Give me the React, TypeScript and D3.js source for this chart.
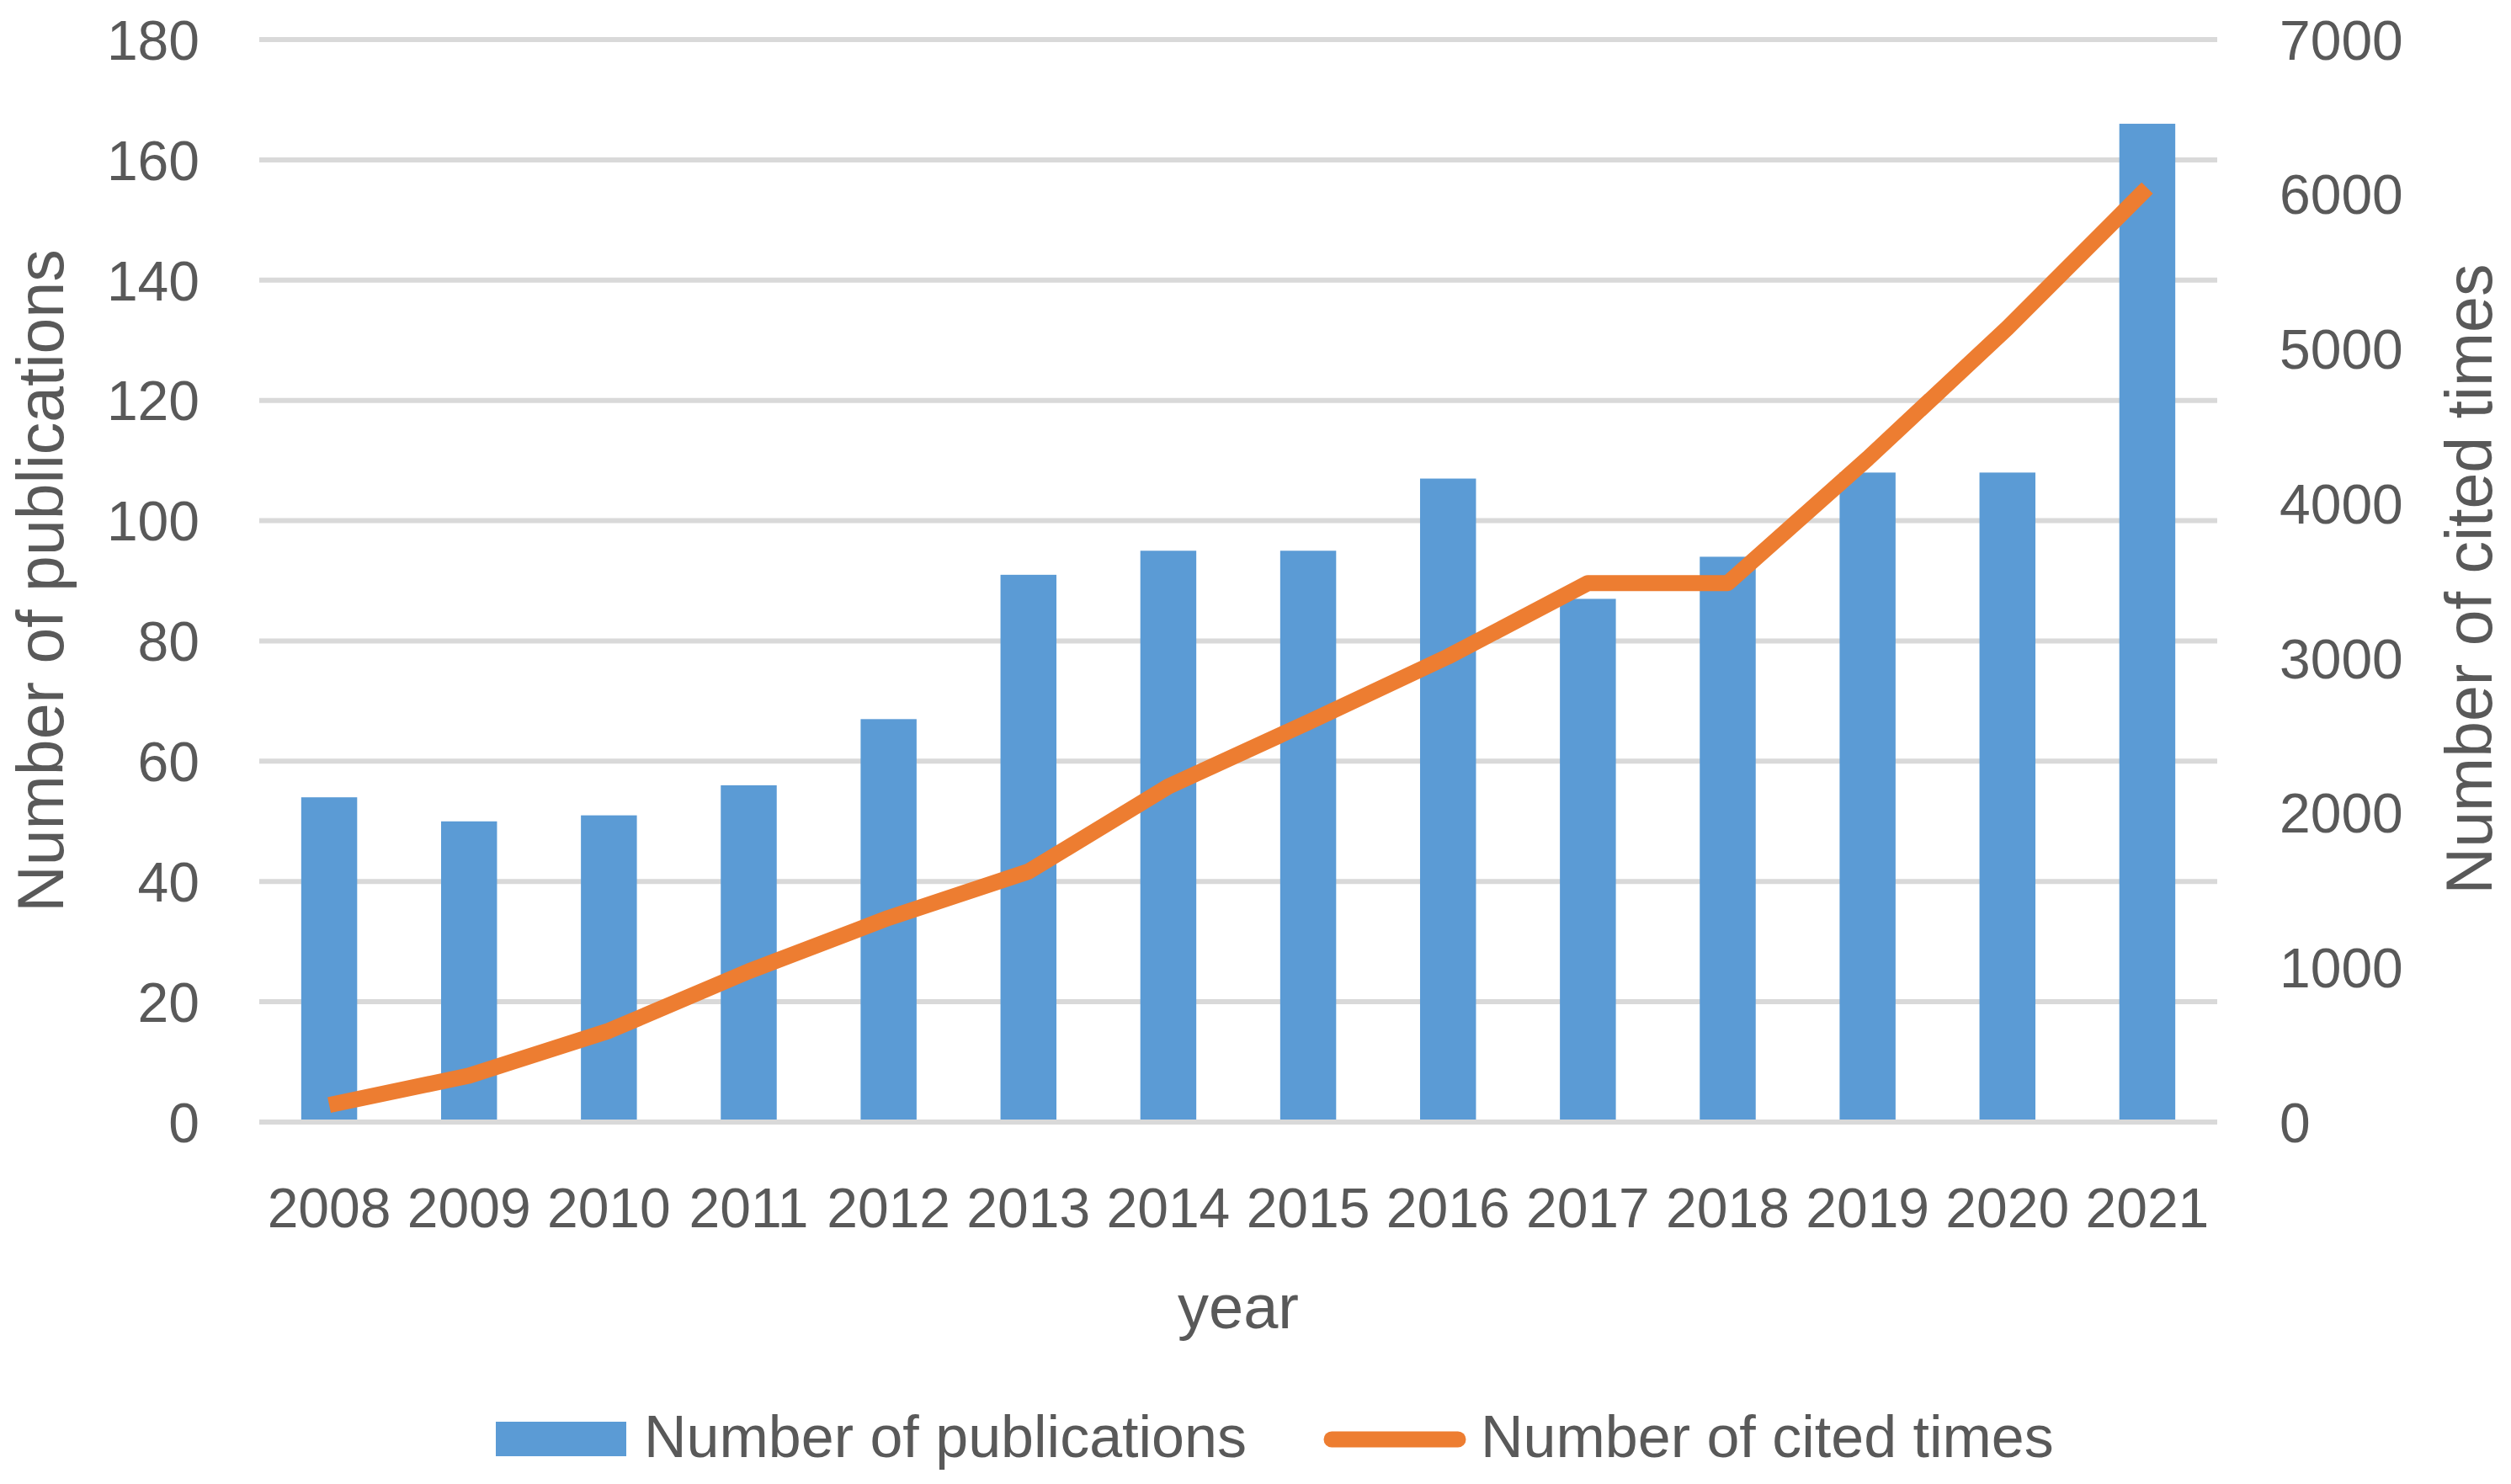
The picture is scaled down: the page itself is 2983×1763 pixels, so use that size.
import React from "react";
import * as d3 from "d3";

const years = ["2008","2009","2010","2011","2012","2013","2014","2015","2016","2017","2018","2019","2020","2021"];
const publications = [54, 50, 51, 56, 67, 91, 95, 95, 107, 87, 94, 108, 108, 166];
const citedTimes = [110, 300, 590, 975, 1320, 1620, 2170, 2585, 3010, 3485, 3485, 4290, 5135, 6040];
const leftTicks = [0, 20, 40, 60, 80, 100, 120, 140, 160, 180];
const rightTicks = [0, 1000, 2000, 3000, 4000, 5000, 6000, 7000];

const W = 2983;
const H = 1763;
const FONT = "'Liberation Sans', Arial, sans-serif";
const TEXT = "#595959";
const BLUE = "#5B9BD5";
const ORANGE = "#ED7D31";
const GRID = "#D9D9D9";

export default function App() {
  const x = d3.scaleBand<string>().domain(years).range([308, 2634]).paddingInner(0.6).paddingOuter(0.3);
  const yL = d3.scaleLinear().domain([0, 180]).range([1333, 47]);
  const yR = d3.scaleLinear().domain([0, 7000]).range([1333, 47]);
  const bw = x.bandwidth();
  const cx = (y: string) => (x(y) as number) + bw / 2;
  const linePath = d3
    .line<number>()
    .x((_, i) => cx(years[i]))
    .y((d) => yR(d))(citedTimes) as string;

  return (
    <svg
      width={W}
      height={H}
      viewBox={`0 0 ${W} ${H}`}
      style={{ position: "absolute", left: 0, top: 0, background: "#fff" }}
    >
      <rect x={0} y={0} width={W} height={H} fill="#fff" />
      {leftTicks.map((t) => (
        <line key={"g" + t} x1={308} x2={2634} y1={yL(t)} y2={yL(t)} stroke={GRID} strokeWidth={6} />
      ))}
      {years.map((yr, i) => (
        <rect
          key={"b" + yr}
          x={x(yr)}
          y={yL(publications[i])}
          width={bw}
          height={yL(0) - yL(publications[i]) - 2}
          fill={BLUE}
        />
      ))}
      <line x1={308} x2={2634} y1={yL(0)} y2={yL(0)} stroke={GRID} strokeWidth={6} />
      <path d={linePath} fill="none" stroke={ORANGE} strokeWidth={19} strokeLinejoin="round" strokeLinecap="butt" />
      <g fontFamily={FONT} fill={TEXT}>
        {leftTicks.map((t) => (
          <text key={"l" + t} x={237} y={yL(t)} dy="0.36em" textAnchor="end" fontSize={66}>
            {t}
          </text>
        ))}
        {rightTicks.map((t) => (
          <text key={"r" + t} x={2708} y={yR(t)} dy="0.36em" textAnchor="start" fontSize={66}>
            {t}
          </text>
        ))}
        {years.map((yr) => (
          <text key={"x" + yr} x={cx(yr)} y={1458} textAnchor="middle" fontSize={66}>
            {yr}
          </text>
        ))}
        <text transform="translate(75,690) rotate(-90)" textAnchor="middle" fontSize={77}>
          Number of publications
        </text>
        <text transform="translate(2960,688) rotate(-90)" textAnchor="middle" fontSize={77}>
          Number of cited times
        </text>
        <text x={(308 + 2634) / 2} y={1578} textAnchor="middle" fontSize={74}>
          year
        </text>
        <rect x={589} y={1689} width={155} height={41} fill={BLUE} />
        <text x={765} y={1731} fontSize={70}>
          Number of publications
        </text>
        <line x1={1582} x2={1732} y1={1710} y2={1710} stroke={ORANGE} strokeWidth={19} strokeLinecap="round" />
        <text x={1759} y={1731} fontSize={70}>
          Number of cited times
        </text>
      </g>
    </svg>
  );
}
